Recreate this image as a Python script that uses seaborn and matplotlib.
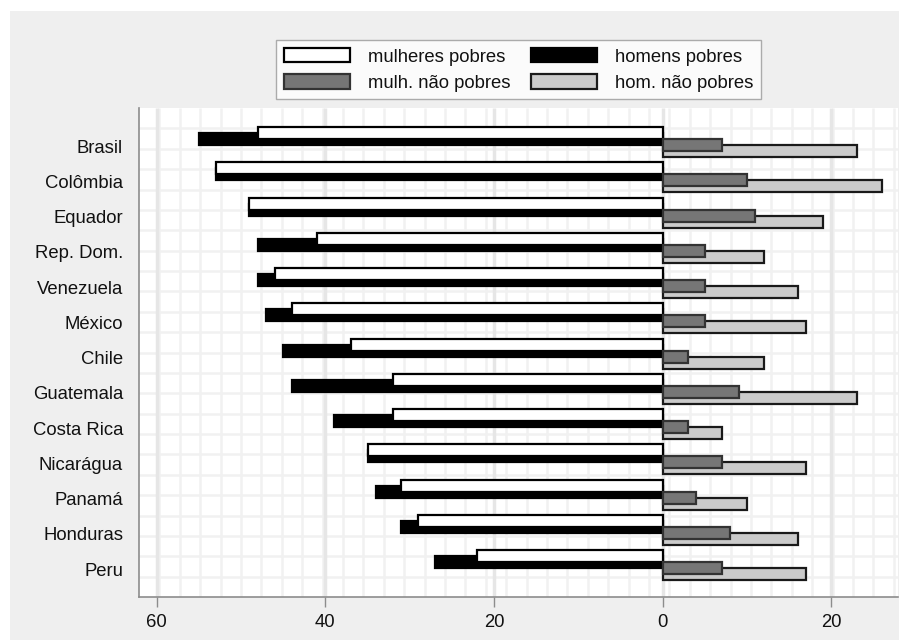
import numpy as np
import pandas as pd
import seaborn as sns
import matplotlib.pyplot as plt
from matplotlib.patches import Patch, Rectangle

paises = ["Brasil", "Colômbia", "Equador", "Rep. Dom.", "Venezuela", "México",
          "Chile", "Guatemala", "Costa Rica", "Nicarágua", "Panamá", "Honduras", "Peru"]
mulheres_pobres = [48, 53, 49, 41, 46, 44, 37, 32, 32, 35, 31, 29, 22]
homens_pobres = [55, 53, 49, 48, 48, 47, 45, 44, 39, 35, 34, 31, 27]
mulh_nao_pobres = [7, 10, 11, 5, 5, 5, 3, 9, 3, 7, 4, 8, 7]
hom_nao_pobres = [23, 26, 19, 12, 16, 17, 12, 23, 7, 17, 10, 16, 17]
grupos = ["mulheres pobres", "homens pobres", "mulh. não pobres", "hom. não pobres"]
ticks_x = [-60, -40, -20, 0, 20]

cores = ["white", "black", "#767676", "#cbcbcb"]
bordas = ["black", "black", "#333333", "#1a1a1a"]

# lado esquerdo (pobres) vai como negativo
df = pd.DataFrame({
    "pais": paises * 4,
    "grupo": np.repeat(grupos, len(paises)),
    "valor": np.concatenate([-np.array(mulheres_pobres), -np.array(homens_pobres),
                             np.array(mulh_nao_pobres), np.array(hom_nao_pobres)]),
})

sns.set_style("white")
plt.rcParams["font.family"] = ["Liberation Sans", "DejaVu Sans"]
cor_texto = "#111111"
tam = 13.3

fig = plt.figure(figsize=(9.09, 6.44), dpi=100)
fig.patches.append(Rectangle((10 / 909, 4 / 644), 889 / 909, 629 / 644,
                             transform=fig.transFigure, facecolor="#efefef",
                             edgecolor="none", zorder=-10))
ax = fig.add_axes([139 / 909, 47 / 644, 759 / 909, 489 / 644])
ax.set_facecolor("white")

sns.barplot(data=df, y="pais", x="valor", hue="grupo", hue_order=grupos, order=paises,
            palette=cores, orient="h", errorbar=None, legend=False, saturation=1,
            width=0.8, ax=ax)

# barras sobrepostas, estilo Stata
desloc = [-0.37, -0.20, -0.03, 0.14]
altura = 0.34
for i, cont in enumerate(ax.containers):
    for barra in cont.patches:
        cat = round(barra.get_y() + barra.get_height() / 2)
        barra.set_y(cat + desloc[i] - altura / 2)
        barra.set_height(altura)
        barra.set_edgecolor(bordas[i])
        barra.set_linewidth(1.6)
        barra.set_zorder(4 if i in (0, 2) else 3)

# grade de fundo
ax.vlines(np.arange(1, 38) * 20.4 / 759, 0, 1, transform=ax.transAxes,
          color="#f1f1f1", lw=1.8, zorder=0)
ax.hlines(np.arange(1, 24) / 24, 0, 1, transform=ax.transAxes,
          color="#f1f1f1", lw=1.8, zorder=0)
ax.vlines(ticks_x, 0, 1, transform=ax.get_xaxis_transform(),
          color="#e6e6e6", lw=2.5, zorder=0.5)

ax.set_xlim(-62.1, 27.9)
ax.set_ylim(12.79, -1.08)
ax.set_xticks(ticks_x)
ax.set_xticklabels([str(abs(t)) for t in ticks_x])
ax.set_xlabel("")
ax.set_ylabel("")
for lado in ["top", "right"]:
    ax.spines[lado].set_visible(False)
for lado in ["left", "bottom"]:
    ax.spines[lado].set_color("#8c8c8c")
    ax.spines[lado].set_linewidth(1.2)
ax.tick_params(axis="x", bottom=True, direction="out", length=7, width=1,
               color="#8c8c8c", labelsize=tam, pad=5, labelcolor=cor_texto)
ax.tick_params(axis="y", left=False, length=0, pad=11.5, labelsize=tam,
               labelcolor=cor_texto)

handles = [Patch(facecolor=cores[k], edgecolor=bordas[k], linewidth=1.6, label=grupos[k])
           for k in [0, 2, 1, 3]]
leg = fig.legend(handles=handles, ncol=2, loc="upper left",
                 bbox_to_anchor=(276 / 909, 1 - 40 / 644), fontsize=tam,
                 frameon=True, fancybox=False, edgecolor="#999999",
                 handlelength=3.6, handleheight=0.85, handletextpad=0.95,
                 columnspacing=1.1, labelspacing=0.45, borderpad=0.42,
                 borderaxespad=0)
leg.get_frame().set_linewidth(1)
for t in leg.get_texts():
    t.set_color(cor_texto)

fig.savefig("out.png", dpi=100)
